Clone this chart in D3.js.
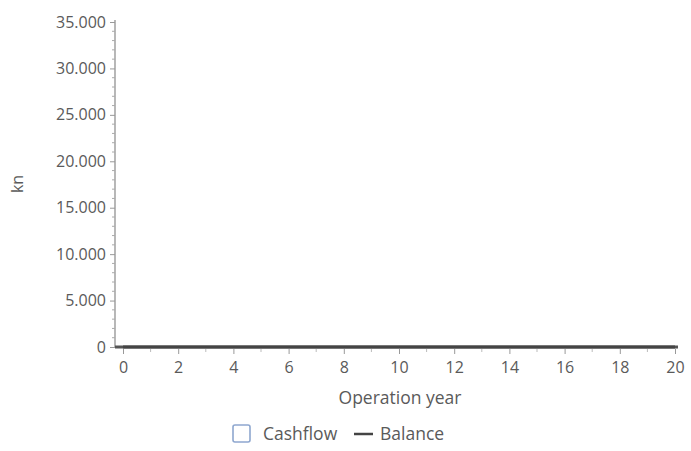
<!DOCTYPE html>
<html><head><meta charset="utf-8">
<script src="https://cdn.jsdelivr.net/npm/d3@7"></script>
<style>body{margin:0;background:#fff}text{font-family:"Open Sans","Noto Sans",sans-serif}</style>
</head><body>
<svg id="c" width="691" height="451"></svg>
<script>
const years = d3.range(0, 21);
const cashflow = years.map(() => 0);
const balance = years.map(() => 0);
const yTicks = [0, 5000, 10000, 15000, 20000, 25000, 30000, 35000];
const xTicks = [0, 2, 4, 6, 8, 10, 12, 14, 16, 18, 20];

const svg = d3.select("#c");
const x = d3.scaleLinear().domain([0, 20]).range([123, 675]);
const y = d3.scaleLinear().domain([0, 35000]).range([347, 22]);
const loc = d3.formatLocale({decimal: ",", thousands: ".", grouping: [3], currency: ["", ""]});
const fmt = loc.format(",d");
const txt = "#5a5a5a";

// y axis
const ya = svg.append("g").attr("transform", "translate(115,0)")
  .call(d3.axisLeft(y).tickValues(yTicks).tickFormat(fmt).tickSize(5).tickPadding(4));
ya.select(".domain").attr("stroke", "#888").attr("stroke-width", 1.2).attr("d", "M0,20V347");
ya.selectAll(".tick line").attr("stroke", "#999");
ya.selectAll("text").attr("fill", txt).style("font-size", "16px");
// y minor ticks
svg.append("g").selectAll("line").data(d3.range(1000, 35000, 1000).filter(v => v % 5000))
  .join("line").attr("x1", 112).attr("x2", 115).attr("y1", d => y(d)).attr("y2", d => y(d))
  .attr("stroke", "#aaa");

// x axis
const xa = svg.append("g").attr("transform", "translate(0,349)")
  .call(d3.axisBottom(x).tickValues(xTicks).tickSize(5).tickPadding(8));
xa.select(".domain").remove();
xa.selectAll(".tick line").attr("stroke", "#999");
xa.selectAll("text").attr("fill", txt).style("font-size", "16px");
svg.append("g").selectAll("line").data(d3.range(1, 20, 2))
  .join("line").attr("x1", d => x(d)).attr("x2", d => x(d)).attr("y1", 349).attr("y2", 352)
  .attr("stroke", "#bbb");

// cashflow bars (zero height)
const bw = 14;
svg.append("g").selectAll("rect").data(years)
  .join("rect").attr("x", (d) => x(d) - bw / 2).attr("width", bw)
  .attr("y", (d, i) => Math.min(y(cashflow[i]), y(0)))
  .attr("height", (d, i) => Math.abs(y(cashflow[i]) - y(0)))
  .attr("fill", "none").attr("stroke", "#8ea7cf");

// baseline
svg.append("line").attr("x1", 115).attr("x2", 678).attr("y1", y(0)).attr("y2", y(0))
  .attr("stroke", "#555").attr("stroke-width", 3);
// balance line
svg.append("path").datum(years)
  .attr("d", d3.line().x(d => x(d)).y((d, i) => y(balance[i])))
  .attr("fill", "none").attr("stroke", "#444").attr("stroke-width", 3);

// axis titles
svg.append("text").attr("x", 400).attr("y", 404).attr("text-anchor", "middle")
  .attr("fill", txt).style("font-size", "17.5px").text("Operation year");
svg.append("text").attr("transform", "translate(23,184) rotate(-90)").attr("text-anchor", "middle")
  .attr("fill", txt).style("font-size", "16px").text("kn");

// legend
const lg = svg.append("g");
lg.append("rect").attr("x", 233).attr("y", 425).attr("width", 17).attr("height", 17)
  .attr("rx", 2).attr("fill", "#fff").attr("stroke", "#8ea7cf").attr("stroke-width", 1.6);
lg.append("text").attr("x", 263).attr("y", 439.5).attr("fill", txt).style("font-size", "17.5px").text("Cashflow");
lg.append("line").attr("x1", 354).attr("x2", 373).attr("y1", 434).attr("y2", 434)
  .attr("stroke", "#444").attr("stroke-width", 2.5);
lg.append("text").attr("x", 380).attr("y", 439.5).attr("fill", txt).style("font-size", "17.5px").text("Balance");
</script>
</body></html>
